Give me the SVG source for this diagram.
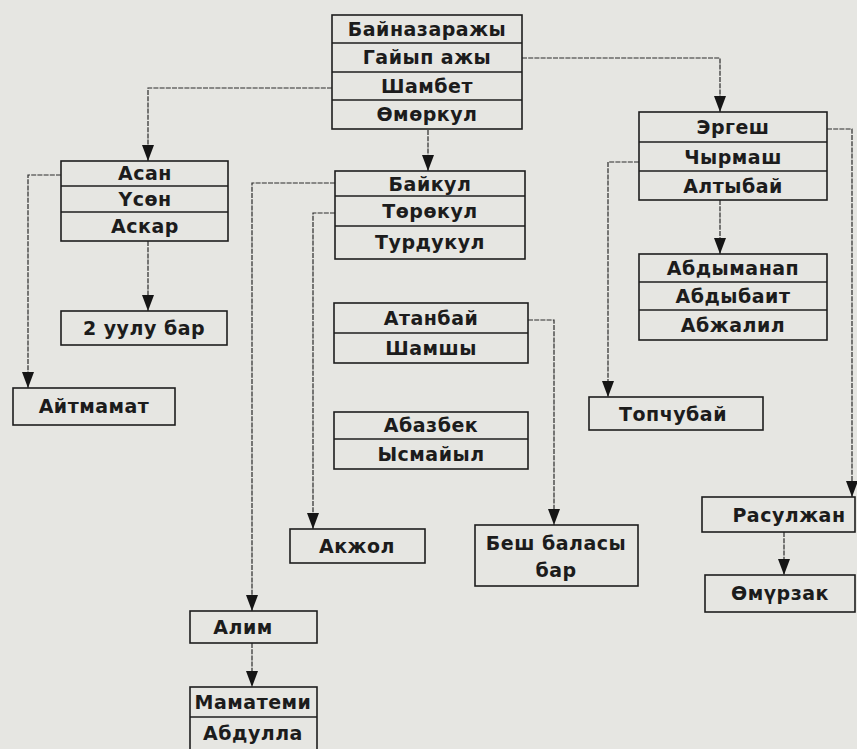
<svg xmlns="http://www.w3.org/2000/svg" width="857" height="749" viewBox="0 0 857 749">
<style>
.box{fill:none;stroke:#1e1e1e;stroke-width:1.6}
.div{stroke:#1e1e1e;stroke-width:1.6}
.t{font-family:"DejaVu Sans",sans-serif;font-size:19px;font-weight:bold;letter-spacing:0.5px;fill:#1c1c1c;text-anchor:middle;dominant-baseline:central}
.c{fill:none;stroke:#2a2a2a;stroke-width:1.2;stroke-dasharray:5 1.2}
</style>
<defs>
<marker id="ar" viewBox="0 0 16 12" refX="16" refY="6" markerWidth="16" markerHeight="12" markerUnits="userSpaceOnUse" orient="auto">
<path d="M0,0 L16,6 L0,12 z" fill="#151515"/>
</marker>
</defs>
<rect x="0" y="0" width="857" height="749" fill="#e6e6e2"/>

<g id="connectors">
<path class="c" d="M332,88 H148 V161" marker-end="url(#ar)"/>
<path class="c" d="M522,58 H720 V112" marker-end="url(#ar)"/>
<path class="c" d="M428,130 V171" marker-end="url(#ar)"/>
<path class="c" d="M61,175 H28 V388" marker-end="url(#ar)"/>
<path class="c" d="M148,241 V311" marker-end="url(#ar)"/>
<path class="c" d="M335,183 H252 V611" marker-end="url(#ar)"/>
<path class="c" d="M335,213 H313 V529" marker-end="url(#ar)"/>
<path class="c" d="M528,320 H554 V525" marker-end="url(#ar)"/>
<path class="c" d="M252,643 V687" marker-end="url(#ar)"/>
<path class="c" d="M827,129 H852 V497" marker-end="url(#ar)"/>
<path class="c" d="M639,162 H608 V397" marker-end="url(#ar)"/>
<path class="c" d="M720,200 V254" marker-end="url(#ar)"/>
<path class="c" d="M784,532 V575" marker-end="url(#ar)"/>
</g>

<g id="n-bainazarazhy">
<rect class="box" x="332" y="15" width="190" height="114"/>
<line class="div" x1="332" y1="43" x2="522" y2="43"/>
<line class="div" x1="332" y1="72" x2="522" y2="72"/>
<line class="div" x1="332" y1="100" x2="522" y2="100"/>
<text class="t" x="427" y="29">Байназаражы</text>
<text class="t" x="427" y="57">Гайып ажы</text>
<text class="t" x="427" y="86">Шамбет</text>
<text class="t" x="427" y="114">Өмөркул</text>
</g>

<g id="n-asan">
<rect class="box" x="61" y="161" width="167" height="80"/>
<line class="div" x1="61" y1="186" x2="228" y2="186"/>
<line class="div" x1="61" y1="212" x2="228" y2="212"/>
<text class="t" x="145" y="173">Асан</text>
<text class="t" x="145" y="199">Үсөн</text>
<text class="t" x="145" y="226">Аскар</text>
</g>

<g id="n-2uulu">
<rect class="box" x="61" y="311" width="166" height="34"/>
<text class="t" x="144" y="328">2 уулу бар</text>
</g>

<g id="n-aitmamat">
<rect class="box" x="13" y="388" width="162" height="37"/>
<text class="t" x="94" y="406">Айтмамат</text>
</g>

<g id="n-baikul">
<rect class="box" x="335" y="171" width="190" height="88"/>
<line class="div" x1="335" y1="196" x2="525" y2="196"/>
<line class="div" x1="335" y1="226" x2="525" y2="226"/>
<text class="t" x="430" y="184">Байкул</text>
<text class="t" x="430" y="211">Төрөкул</text>
<text class="t" x="430" y="242">Турдукул</text>
</g>

<g id="n-atanbai">
<rect class="box" x="334" y="303" width="194" height="60"/>
<line class="div" x1="334" y1="333" x2="528" y2="333"/>
<text class="t" x="431" y="318">Атанбай</text>
<text class="t" x="431" y="348">Шамшы</text>
</g>

<g id="n-abazbek">
<rect class="box" x="334" y="412" width="194" height="57"/>
<line class="div" x1="334" y1="439" x2="528" y2="439"/>
<text class="t" x="431" y="425">Абазбек</text>
<text class="t" x="431" y="454">Ысмайыл</text>
</g>

<g id="n-akzhol">
<rect class="box" x="290" y="529" width="135" height="34"/>
<text class="t" x="357" y="546">Акжол</text>
</g>

<g id="n-besh">
<rect class="box" x="475" y="525" width="163" height="61"/>
<text class="t" x="556" y="543">Беш баласы</text>
<text class="t" x="556" y="570">бар</text>
</g>

<g id="n-alim">
<rect class="box" x="190" y="611" width="127" height="32"/>
<text class="t" x="243" y="627">Алим</text>
</g>

<g id="n-mamatemi">
<rect class="box" x="190" y="687" width="127" height="64"/>
<line class="div" x1="190" y1="717" x2="317" y2="717"/>
<text class="t" x="253" y="702">Маматеми</text>
<text class="t" x="253" y="733">Абдулла</text>
</g>

<g id="n-ergesh">
<rect class="box" x="639" y="112" width="188" height="88"/>
<line class="div" x1="639" y1="142" x2="827" y2="142"/>
<line class="div" x1="639" y1="171" x2="827" y2="171"/>
<text class="t" x="733" y="127">Эргеш</text>
<text class="t" x="733" y="157">Чырмаш</text>
<text class="t" x="733" y="186">Алтыбай</text>
</g>

<g id="n-abdymanap">
<rect class="box" x="639" y="254" width="188" height="86"/>
<line class="div" x1="639" y1="282" x2="827" y2="282"/>
<line class="div" x1="639" y1="310" x2="827" y2="310"/>
<text class="t" x="733" y="268">Абдыманап</text>
<text class="t" x="733" y="296">Абдыбаит</text>
<text class="t" x="733" y="325">Абжалил</text>
</g>

<g id="n-topchubai">
<rect class="box" x="589" y="397" width="174" height="33"/>
<text class="t" x="673" y="414">Топчубай</text>
</g>

<g id="n-rasulzhan">
<rect class="box" x="702" y="497" width="153" height="35"/>
<text class="t" x="789" y="515">Расулжан</text>
</g>

<g id="n-omurzak">
<rect class="box" x="705" y="575" width="150" height="37"/>
<text class="t" x="780" y="593">Өмүрзак</text>
</g>
</svg>
